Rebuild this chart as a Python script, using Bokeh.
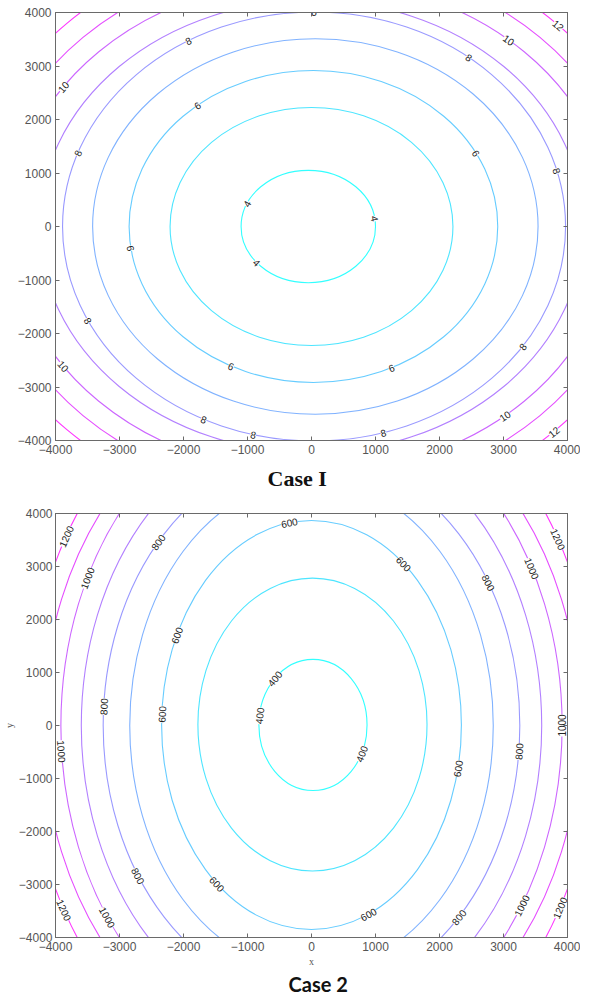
import math
from bokeh.plotting import figure
from bokeh.models import Range1d, FixedTicker, LinearAxis, Title, ColumnDataSource
from bokeh.layouts import column
from bokeh.core.properties import value
from bokeh.embed import file_html
from bokeh.resources import INLINE

# ---------------- data ----------------
tick_values = [-4000, -3000, -2000, -1000, 0, 1000, 2000, 3000, 4000]

# Case I : contour levels approximated as ellipses (centre, semi-axes)
case1_levels = [4, 5, 6, 7, 8, 9, 10, 11, 12]
case1_cx = [-50, 0, 30, 60, 40, 0, 0, 0, 0]
case1_cy = [0, 0, 0, 0, 0, 0, 0, 0, 0]
case1_semi_x = [1050, 2210, 2880, 3480, 3930, 4250, 4700, 5050, 5400]
case1_semi_y = [1050, 2225, 2915, 3510, 4010, 4230, 4620, 5000, 5380]

# Case 2
case2_levels = [400, 500, 600, 700, 800, 900, 1000, 1100, 1200]
case2_cx = [23, 15, 0, 0, 0, 0, 0, 0, 0]
case2_cy = [10, 18, 10, 0, 0, 0, 0, 0, 0]
case2_semi_x = [845, 1790, 2342, 2840, 3255, 3597, 3916, 4200, 4450]
case2_semi_y = [1237, 2763, 3860, 4643, 5113, 5668, 6232, 6480, 7030]

# inline contour labels: which level, and where along it (degrees)
case1_label_levels = [4, 4, 4, 6, 6, 6, 6, 6, 8, 8, 8, 8, 8, 8, 8, 8, 8, 8,
                      10, 10, 10, 10, 12, 12]
case1_label_theta = [156, 8, 220, 188, 129, 28, -65, 243.5, 120, 160, 15, 52,
                     -34, -74, 206, 90, 244, 256, 145.6, 214.4, 49, -50,
                     44.4, -45.5]
case2_label_levels = [400, 400, 400, 600, 600, 600, 600, 600, 600, 600,
                      800, 800, 800, 800, 800, 800,
                      1000, 1000, 1000, 1000, 1000, 1000,
                      1200, 1200, 1200, 1200]
case2_label_theta = [172, 135, -26, 98.5, 154, 177, 231, -67.7, -12.3, 52,
                     137.4, 176, 213.7, -45, -5.5, 31.8,
                     153.5, 184.5, 215.5, -33, 28.4, 0,
                     149.5, 209.7, 30, -29.3]

XMIN, XMAX, YMIN, YMAX = -4000, 4000, -4000, 4000
AXIS_COLOR = "#6a6a6a"


def cool(t):
    r = int(round(255 * t))
    g = int(round(255 * (1 - t)))
    return "#%02x%02x%02x" % (r, g, 255)


def style_axis(ax, labels=True, standoff=4):
    ax.ticker = FixedTicker(ticks=tick_values)
    ax.major_tick_in = 4
    ax.major_tick_out = 0
    ax.minor_tick_line_color = None
    ax.axis_line_color = AXIS_COLOR
    ax.major_tick_line_color = AXIS_COLOR
    if labels:
        ax.major_label_text_font = "Liberation Sans"
        ax.major_label_text_font_size = "12px"
        ax.major_label_text_color = "#555555"
        ax.major_label_standoff = standoff
    else:
        ax.major_label_text_color = None
        ax.major_label_text_font_size = "1px"
        ax.major_label_standoff = 0


def make_plot(levels, cx, cy, ax_, ay_, lab_levels, lab_theta, fw, fh,
              width, height, mb):
    p = figure(width=width, height=height,
               x_range=Range1d(XMIN, XMAX), y_range=Range1d(YMIN, YMAX),
               output_backend="svg", toolbar_location=None,
               min_border_left=mb[0], min_border_right=mb[1],
               min_border_top=mb[2], min_border_bottom=mb[3])
    p.grid.visible = False
    p.outline_line_color = AXIS_COLOR
    p.background_fill_color = "white"
    p.border_fill_color = "white"

    lo, hi = min(levels), max(levels)
    colors = [cool((l - lo) / (hi - lo)) for l in levels]
    src = ColumnDataSource(dict(x=cx, y=cy, w=[2 * a for a in ax_],
                                h=[2 * b for b in ay_], c=colors))
    p.ellipse(x="x", y="y", width="w", height="h", source=src,
              fill_color=None, line_color="c", line_width=1.1, line_alpha=0.8)

    # labels placed on the curves, rotated along them
    sx = fw / (XMAX - XMIN)
    sy = fh / (YMAX - YMIN)
    lx, ly, la, lt = [], [], [], []
    for lev, th in zip(lab_levels, lab_theta):
        i = levels.index(lev)
        t = math.radians(th)
        lx.append(cx[i] + ax_[i] * math.cos(t))
        ly.append(cy[i] + ay_[i] * math.sin(t))
        dx = -ax_[i] * math.sin(t) * sx
        dy = ay_[i] * math.cos(t) * sy
        ang = math.atan2(dy, dx)
        if ang > math.pi / 2:
            ang -= math.pi
        if ang < -math.pi / 2:
            ang += math.pi
        la.append(ang)
        lt.append(str(lev))
    lsrc = ColumnDataSource(dict(x=lx, y=ly, a=la, t=lt))
    p.text(x="x", y="y", text="t", angle="a", source=lsrc,
           text_align="center", text_baseline="middle",
           text_font=value("Liberation Sans"), text_font_size="10px",
           text_color="#222222", background_fill_color="white")
    return p


def box_axes(p):
    top = LinearAxis()
    right = LinearAxis()
    style_axis(top, labels=False)
    style_axis(right, labels=False)
    p.add_layout(top, "above")
    p.add_layout(right, "right")


# ---------------- Case I ----------------
p1 = make_plot(case1_levels, case1_cx, case1_cy, case1_semi_x, case1_semi_y,
               case1_label_levels, case1_label_theta, 526, 428,
               580, 505, (41, 13, 12, 65))
style_axis(p1.xaxis[0])
style_axis(p1.yaxis[0])
box_axes(p1)
p1.add_layout(Title(text="Case I", align="left", offset=212, standoff=14,
                    text_font="Liberation Serif", text_font_size="22px",
                    text_font_style="bold", text_color="#111111"), "below")

# ---------------- Case 2 ----------------
p2 = make_plot(case2_levels, case2_cx, case2_cy, case2_semi_x, case2_semi_y,
               case2_label_levels, case2_label_theta, 521, 427,
               580, 490, (47, 12, 8, 55))
style_axis(p2.xaxis[0])
style_axis(p2.yaxis[0], standoff=3)
p2.xaxis[0].axis_label = "x"
p2.yaxis[0].axis_label = "y"
for a in (p2.xaxis[0], p2.yaxis[0]):
    a.axis_label_text_font = "Liberation Serif"
    a.axis_label_text_font_size = "10px"
    a.axis_label_text_font_style = "normal"
    a.axis_label_text_color = "#555555"
p2.xaxis[0].axis_label_standoff = 2
p2.yaxis[0].axis_label_standoff = 1
box_axes(p2)
p2.add_layout(Title(text="Case 2", align="left", offset=233, standoff=0,
                    text_font="Lato", text_font_size="20px",
                    text_font_style="bold", text_color="#111111"), "below")

layout = column(p1, p2)
open("out.html", "w").write(file_html(layout, INLINE))
